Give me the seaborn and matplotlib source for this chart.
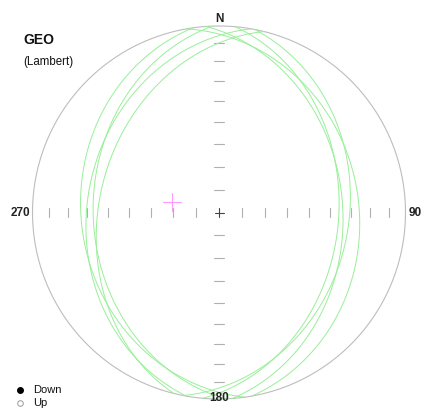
import numpy as np
import pandas as pd
import matplotlib
matplotlib.use("Agg")
import matplotlib.pyplot as plt
import seaborn as sns

# planes: dip direction (deg) and dip (deg)
dip_dirs = [262, 280, 268, 284, 95, 86, 101, 80]
dips = [27, 30, 33, 36, 36, 34, 31, 26]

# magenta cross (trend, plunge)
mean_trend = 283
mean_plunge = 69

tick_angles = [10, 20, 30, 40, 50, 60, 70, 80]
compass_labels = ["N", "90", "180", "270"]


def lambert(trend, plunge):
    # lower hemisphere equal-area, unit primitive
    r = np.sqrt(2) * np.sin(np.radians(90 - plunge) / 2)
    t = np.radians(trend)
    return r * np.sin(t), r * np.cos(t)


def great_circle(dd, dip, n=181):
    s = np.radians(dd - 90)
    d = np.radians(dd)
    dp = np.radians(dip)
    a = np.linspace(0, np.pi, n)
    sv = np.array([np.sin(s), np.cos(s), 0.0])
    dv = np.array([np.sin(d) * np.cos(dp), np.cos(d) * np.cos(dp), np.sin(dp)])
    v = np.outer(np.cos(a), sv) + np.outer(np.sin(a), dv)
    trend = np.degrees(np.arctan2(v[:, 0], v[:, 1]))
    plunge = np.degrees(np.arcsin(np.clip(v[:, 2], -1, 1)))
    return lambert(trend, plunge)


rows = []
for i, (dd, dp) in enumerate(zip(dip_dirs, dips)):
    x, y = great_circle(dd, dp)
    for k in range(len(x)):
        rows.append({"plane": i, "order": k, "x": x[k], "y": y[k]})
gc = pd.DataFrame(rows)

sns.set_theme(style="white")
plt.rcParams["font.family"] = ["Liberation Sans", "DejaVu Sans"]

W, H = 423, 409
cx, cy, R = 219, 212.5, 186.5
fig = plt.figure(figsize=(W / 100, H / 100), dpi=100)
fig.patch.set_facecolor("white")
ax = fig.add_axes([(cx - R) / W, (H - cy - R) / H, 2 * R / W, 2 * R / H])
ax.set_xlim(-1, 1)
ax.set_ylim(-1, 1)
ax.axis("off")

# primitive circle
th = np.linspace(0, 2 * np.pi, 400)
ax.plot(np.cos(th), np.sin(th), color="#bdbdbd", lw=0.8, clip_on=False)

# ticks along the axes
tick_r = np.sqrt(2) * np.sin(np.radians(tick_angles) / 2)
hv = 4.2 / R
hh = 5.2 / R
for r in tick_r:
    for sgn in (-1, 1):
        ax.plot([sgn * r, sgn * r], [-hv, hv], color="#b0b0b0", lw=0.8)
        ax.plot([-hh, hh], [sgn * r, sgn * r], color="#b0b0b0", lw=0.8)

# centre cross
c = 4.5 / R
ax.plot([-c, c], [0, 0], color="#444444", lw=0.8)
ax.plot([0, 0], [-c, c], color="#444444", lw=0.8)

# great circles
sns.lineplot(data=gc, x="x", y="y", units="plane", estimator=None, sort=False,
             color="#98ef98", lw=0.7, ax=ax, legend=False)

# magenta cross
mx, my = lambert(mean_trend, mean_plunge)
m = 9 / R
ax.plot([mx - m, mx + m], [my, my], color="#ff99ff", lw=0.8)
ax.plot([mx, mx], [my - m, my + m], color="#ff99ff", lw=0.8)

# compass labels
lab_kw = dict(fontsize=8.5, fontweight="bold", color="#222222", clip_on=False)
ax.text(0, (cy - 19) / R, compass_labels[0], ha="center", va="center", **lab_kw)
ax.text((415 - cx) / R, 0, compass_labels[1], ha="center", va="center", **lab_kw)
ax.text(0, (cy - 398) / R, compass_labels[2], ha="center", va="center", **lab_kw)
ax.text((20 - cx) / R, 0, compass_labels[3], ha="center", va="center", **lab_kw)

# title block
fig.text(23 / W, 1 - 40 / H, "GEO", fontsize=10, fontweight="bold", va="center", ha="left", color="#111111")
fig.text(23 / W, 1 - 62.5 / H, "(Lambert)", fontsize=8.3, va="center", ha="left", color="#111111")

# hemisphere legend
leg = fig.add_axes([0, 0, 1, 1], facecolor="none")
leg.set_xlim(0, W)
leg.set_ylim(H, 0)
leg.axis("off")
leg.plot([20], [390], "o", ms=4, color="black")
leg.plot([20], [402.5], "o", ms=4, mfc="white", mec="#999999", mew=0.7)
leg.text(33, 390, "Down", fontsize=8, va="center", ha="left", color="#111111")
leg.text(33, 402.5, "Up", fontsize=8, va="center", ha="left", color="#111111")

fig.savefig("out.png", dpi=100)
